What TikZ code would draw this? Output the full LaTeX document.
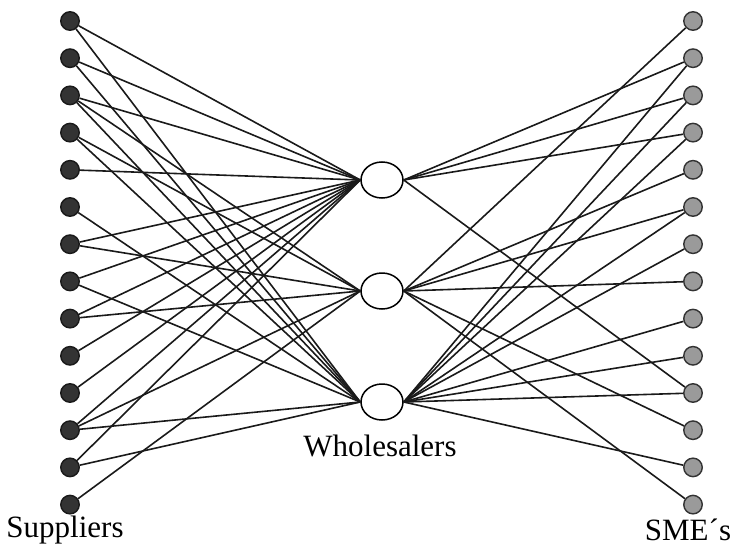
\documentclass[tikz,border=0pt]{standalone}
\usepackage{fontspec}
\setmainfont{Liberation Serif}
\usetikzlibrary{shapes.geometric}
\definecolor{supfill}{HTML}{333333}
\definecolor{smefill}{HTML}{9A9A9A}
\definecolor{linkcol}{HTML}{1A1A1A}
\begin{document}
\begin{tikzpicture}[x=1pt,y=-1pt,
  sup/.style={circle,draw=black!90,line width=1.4pt,fill=supfill,minimum size=18.5pt,inner sep=0pt},
  sme/.style={circle,draw=black!80,line width=1.4pt,fill=smefill,minimum size=18.5pt,inner sep=0pt},
  whs/.style={ellipse,draw=black,line width=1.5pt,fill=white,minimum width=42pt,minimum height=36pt,inner sep=0pt},
  link/.style={line width=1.6pt,draw=linkcol},
  lbl/.style={font=\fontsize{31}{36}\selectfont,inner sep=0pt}]
\useasboundingbox[fill=white] (0,0) rectangle (743,551);
\foreach \i in {1,...,14}{
  \pgfmathsetmacro\yy{21+37.2*(\i-1)}
  \node[sup] (L\i) at (70,\yy) {};
  \node[sme] (R\i) at (693,\yy) {};
}
\node[whs] (W1) at (382,180) {};
\node[whs] (W2) at (382,291) {};
\node[whs] (W3) at (382,402) {};
\foreach \a/\b in {1/1,1/3,2/1,2/3,3/1,3/2,3/3,4/2,4/3,5/1,6/3,7/1,7/2,8/1,8/3,9/1,9/2,10/1,11/1,12/1,12/2,12/3,13/1,13/3,14/2}
  \draw[link] (L\a) -- (W\b.west);
\foreach \a/\b in {1/2,2/1,2/3,3/1,3/3,4/1,4/3,5/2,6/2,6/3,7/3,8/2,9/3,10/3,11/1,11/3,12/2,13/3,14/2}
  \draw[link] (W\b.east) -- (R\a);
\node[lbl] (tsup) at (65,530) {Suppliers};
\node[lbl] (twho) at (380,446) {Wholesalers};
\node[lbl] (tsme) at (688,530) {SME´s};
\end{tikzpicture}
\end{document}
